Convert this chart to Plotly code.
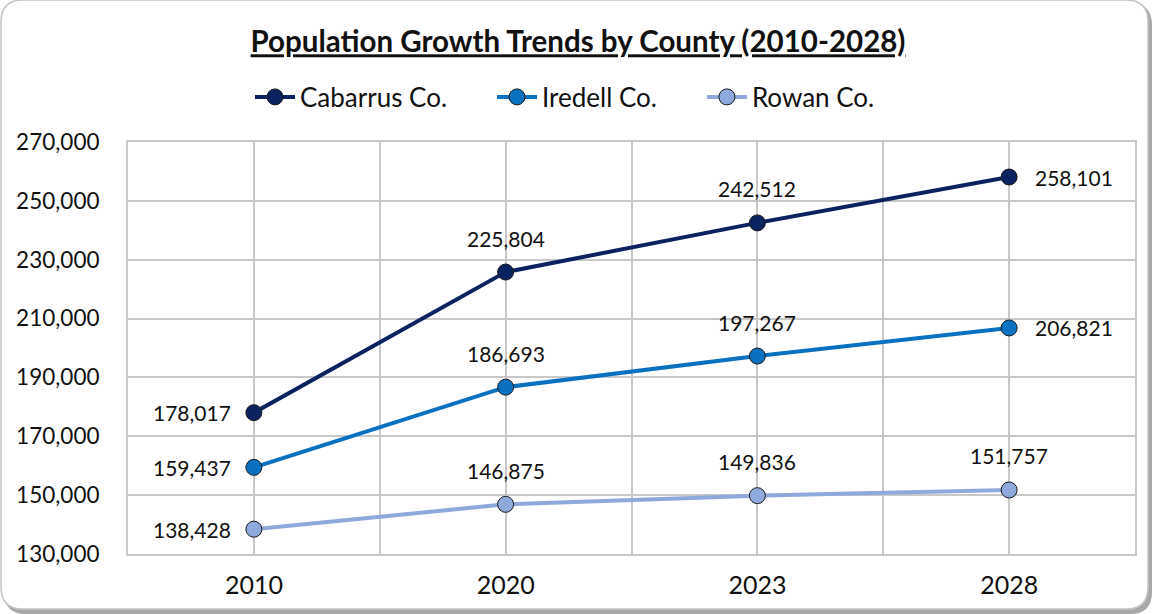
import plotly.graph_objects as go

years = ["2010", "2020", "2023", "2028"]
cabarrus = [178017, 225804, 242512, 258101]
iredell = [159437, 186693, 197267, 206821]
rowan = [138428, 146875, 149836, 151757]

series = [
    ("Cabarrus Co.", cabarrus, "#0B2260", ["left", "top", "top", "right"]),
    ("Iredell Co.", iredell, "#0A70C0", ["left", "top", "top", "right"]),
    ("Rowan Co.", rowan, "#8EA9DB", ["left", "top", "top", "top"]),
]

FONT = "Lato"
xs = list(range(len(years)))

fig = go.Figure()
annotations = []
for name, vals, color, pos in series:
    fig.add_trace(go.Scatter(
        x=xs, y=vals, name=name + "      ", mode="lines+markers",
        line=dict(color=color, width=4),
        marker=dict(size=16, color=color, line=dict(color="#1a1a1a", width=1)),
        cliponaxis=False,
    ))
    for xi, v, p in zip(xs, vals, pos):
        if p == "left":
            kw = dict(xanchor="right", yanchor="middle", xshift=-21, yshift=0)
        elif p == "right":
            kw = dict(xanchor="left", yanchor="middle", xshift=24, yshift=0)
        else:
            kw = dict(xanchor="center", yanchor="middle", xshift=0, yshift=34)
        annotations.append(dict(
            x=xi, y=v, xref="x", yref="y", text=f"{v:,}", showarrow=False,
            font=dict(family=FONT, size=21, color="#111111"), **kw))

W, H = 1152, 614
L, R, T, B = 128, 17, 142, 60
pw, ph = W - L - R, H - T - B

def px(x):
    return (x - L) / pw

def py(y):
    return (H - B - y) / ph

def rounded(x0, y0, x1, y1, r):
    rx, ry = r / pw, r / ph
    a0, a1, b0, b1 = px(x0), px(x1), py(y0), py(y1)
    return (
        f"M {a0+rx},{b0} L {a1-rx},{b0} Q {a1},{b0} {a1},{b0-ry} "
        f"L {a1},{b1+ry} Q {a1},{b1} {a1-rx},{b1} "
        f"L {a0+rx},{b1} Q {a0},{b1} {a0},{b1+ry} "
        f"L {a0},{b0-ry} Q {a0},{b0} {a0+rx},{b0} Z"
    )

shapes = [
    dict(type="path", xref="paper", yref="paper", layer="below",
         path=rounded(4, 3, 1152, 614, 22), fillcolor="#A8A8A8", line=dict(width=0)),
    dict(type="path", xref="paper", yref="paper", layer="below",
         path=rounded(1, 0, 1148, 609, 22), fillcolor="white", line=dict(color="#C4C4C4", width=1.5)),
]

fig.update_layout(
    width=W, height=H,
    margin=dict(l=L, r=R, t=T, b=B, autoexpand=False),
    paper_bgcolor="white",
    plot_bgcolor="#EBEBEB",
    font=dict(family=FONT, color="#111111"),
    title=dict(
        text="<b><u>Population Growth Trends by County (2010-2028)</u></b>",
        x=578 / W, xanchor="center", xref="container",
        y=1 - 42 / H, yanchor="middle",
        font=dict(family=FONT, size=29.5, color="#111111"),
    ),
    legend=dict(
        orientation="h", x=585 / W, xref="container", xanchor="center",
        y=1 - 97 / H, yref="container", yanchor="middle",
        font=dict(family=FONT, size=26, color="#111111"),
        itemwidth=40, tracegroupgap=0, bgcolor="rgba(0,0,0,0)",
    ),
    showlegend=True,
    annotations=annotations,
    shapes=shapes,
)

fig.update_xaxes(
    range=[-0.5, 3.5], tickvals=xs, ticktext=years, automargin=False,
    showgrid=True, gridcolor="#C8C8C8", gridwidth=1.5,
    minor=dict(tickvals=[-0.5, 0.5, 1.5, 2.5, 3.5], showgrid=True, gridcolor="#C8C8C8", gridwidth=1.5),
    tickfont=dict(family=FONT, size=25, color="#111111"),
    ticks="", zeroline=False, showline=True, linecolor="#C8C8C8", linewidth=2, mirror=True,
    ticklabelstandoff=8,
)
fig.update_yaxes(
    range=[130000, 270000], dtick=20000, tick0=130000, tickformat=",d", automargin=False,
    showgrid=True, gridcolor="#C8C8C8", gridwidth=1.5,
    tickfont=dict(family=FONT, size=22.5, color="#111111"),
    ticks="", zeroline=False, showline=True, linecolor="#C8C8C8", linewidth=2, mirror=True,
    ticklabelstandoff=22,
)

fig.write_html("out.html")
